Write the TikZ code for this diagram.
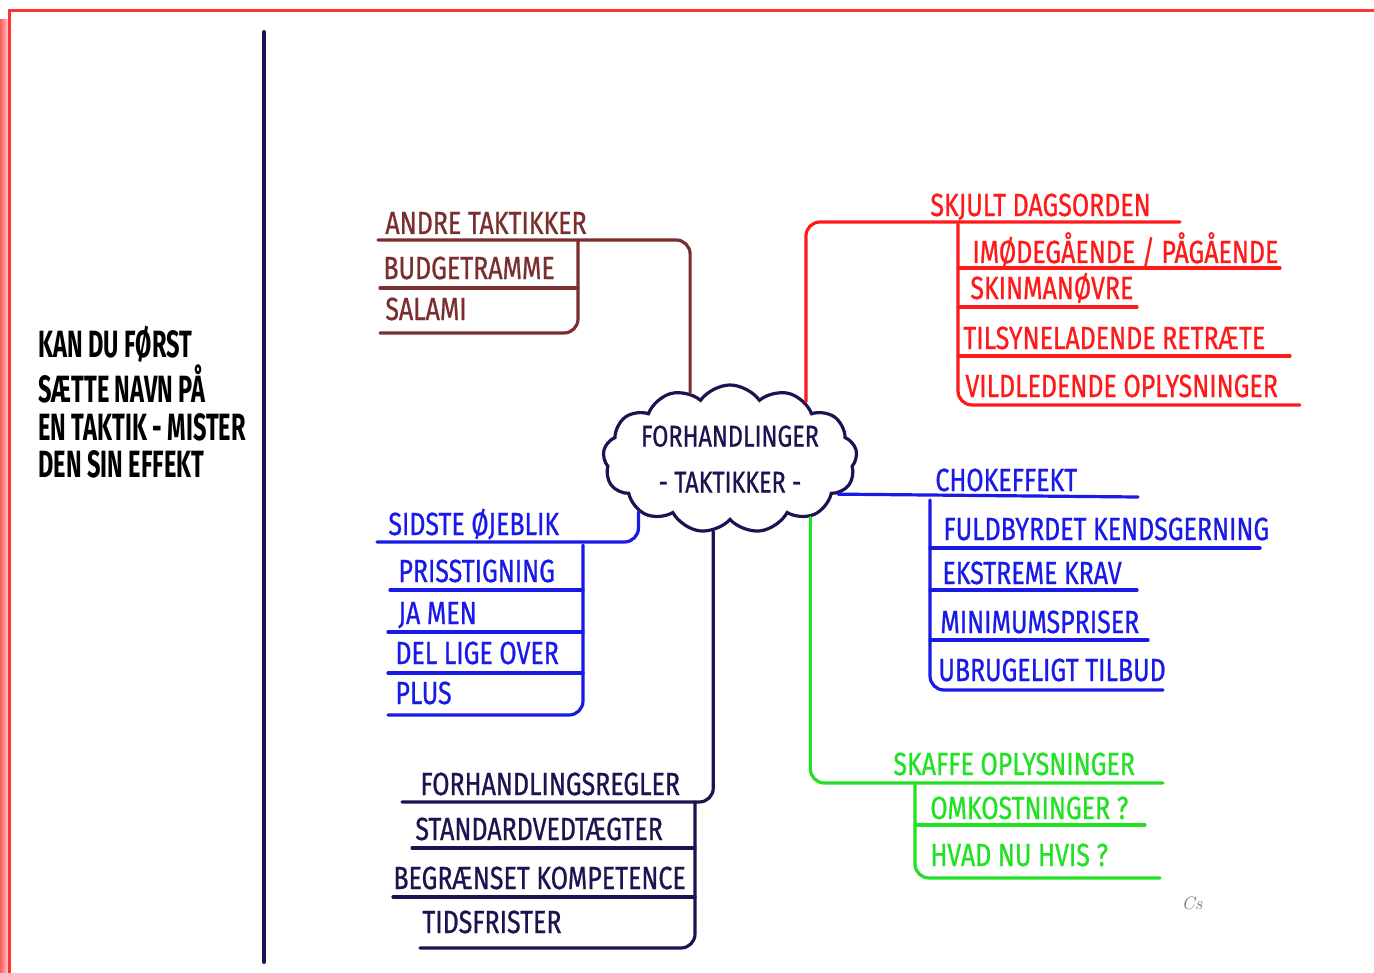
\documentclass[tikz,border=0pt]{standalone}
\usepackage{fontspec}
\newfontfamily\handfont[FakeStretch=0.78,FakeBold=0.8]{Fira Sans}
\newfontfamily\heavyfont[FakeStretch=0.62]{Fira Sans}
\usetikzlibrary{shapes.symbols}

\definecolor{mmbrown}{HTML}{7A2E2E}
\definecolor{mmred}{HTML}{FF1A1A}
\definecolor{mmblue}{HTML}{1A1AE6}
\definecolor{mmgreen}{HTML}{22E022}
\definecolor{mmnavy}{HTML}{1C1450}

\tikzset{
  branch/.style={line width=1.6pt, line cap=round, rounded corners=7pt},
  lbl/.style={font=\handfont\fontsize{16}{16}\selectfont, inner sep=0pt, anchor=base west},
}

\begin{document}
\begin{tikzpicture}[x=0.5pt,y=-0.5pt]
\useasboundingbox (0,0) rectangle (1374,973);
% frame and divider
\shade[left color=red!65, right color=red!20] (0,20) rectangle (8,973);
\draw[red!80, line width=1.5pt] (9,973) -- (9,11) -- (1374,11);
\draw[mmnavy, line width=2pt, line cap=round] (264,32) -- (264,962);

% question on the left
\node[font=\heavyfont\bfseries\fontsize{19}{18.7}\selectfont, align=left, anchor=north west, inner sep=0pt] (question) at (38,326)
  {KAN DU FØRST\\SÆTTE NAVN PÅ\\EN TAKTIK - MISTER\\DEN SIN EFFEKT};

% centre
\node[cloud, draw=mmnavy, line width=1.6pt, cloud puffs=13, cloud puff arc=110, aspect=1.7,
      inner sep=-10pt, minimum width=127pt, minimum height=74pt, align=center, text=mmnavy,
      font=\handfont\fontsize{15}{15}\selectfont] (hub) at (730,459)
  {FORHANDLINGER\\[8pt]- TAKTIKKER -};

% andre taktikker
\node[lbl, text=mmbrown] (andre) at (385,234) {ANDRE TAKTIKKER};
\coordinate (andreL) at (378,240);
\draw[branch, mmbrown] (hub.121) |- (andreL);
\draw[branch, mmbrown] (578,240) |- (380,333);
\draw[branch, mmbrown] (380,288) -- (578,288);
\node[lbl, text=mmbrown] (budget) at (383,279) {BUDGETRAMME};
\node[lbl, text=mmbrown] (salami) at (385,320) {SALAMI};

% skjult dagsorden
\node[lbl, text=mmred] (skjult) at (930,216) {SKJULT DAGSORDEN};
\coordinate (skjultR) at (1180,222);
\draw[branch, mmred] (hub.37) |- (skjultR);
\draw[branch, mmred] (958,224) |- (1300,405);
\draw[branch, mmred] (958,268) -- (1280,268);
\draw[branch, mmred] (958,307) -- (1137,307);
\draw[branch, mmred] (958,356) -- (1290,356);
\node[lbl, text=mmred] (imoede) at (972,263) {IMØDEGÅENDE / PÅGÅENDE};
\node[lbl, text=mmred] (skin) at (970,299) {SKINMANØVRE};
\node[lbl, text=mmred] (retraet) at (963,349) {TILSYNELADENDE RETRÆTE};
\node[lbl, text=mmred] (vild) at (965,397) {VILDLEDENDE OPLYSNINGER};

% chokeffekt
\node[lbl, text=mmblue] (choke) at (935,491) {CHOKEFFEKT};
\coordinate (chokeR) at (1138,497);
\draw[branch, mmblue] (hub.342) -- (chokeR);
\draw[branch, mmblue] (930,500) |- (1163,690);
\draw[branch, mmblue] (930,548) -- (1260,548);
\draw[branch, mmblue] (930,590) -- (1137,590);
\draw[branch, mmblue] (930,640) -- (1148,640);
\node[lbl, text=mmblue] (fuld) at (943,540) {FULDBYRDET KENDSGERNING};
\node[lbl, text=mmblue] (krav) at (942,584) {EKSTREME KRAV};
\node[lbl, text=mmblue] (minimum) at (940,633) {MINIMUMSPRISER};
\node[lbl, text=mmblue] (tilbud) at (938,681) {UBRUGELIGT TILBUD};

% skaffe oplysninger
\node[lbl, text=mmgreen] (skaffe) at (893,775) {SKAFFE OPLYSNINGER};
\coordinate (skaffeR) at (1163,783);
\draw[branch, mmgreen] (hub.324) |- (skaffeR);
\draw[branch, mmgreen] (915,785) |- (1160,878);
\draw[branch, mmgreen] (915,825) -- (1145,825);
\node[lbl, text=mmgreen] (omk) at (930,819) {OMKOSTNINGER ?};
\node[lbl, text=mmgreen] (hvis) at (930,866) {HVAD NU HVIS ?};

% forhandlingsregler
\node[lbl, text=mmnavy] (regler) at (420,795) {FORHANDLINGSREGLER};
\coordinate (reglerL) at (402,802);
\draw[branch, mmnavy] (hub.257) |- (reglerL);
\draw[branch, mmnavy] (695,802) |- (420,948);
\draw[branch, mmnavy] (412,848) -- (695,848);
\draw[branch, mmnavy] (393,897) -- (695,897);
\node[lbl, text=mmnavy] (standard) at (415,840) {STANDARDVEDTÆGTER};
\node[lbl, text=mmnavy] (kompetence) at (393,889) {BEGRÆNSET KOMPETENCE};
\node[lbl, text=mmnavy] (frister) at (422,933) {TIDSFRISTER};

% sidste oejeblik
\node[lbl, text=mmblue] (sidste) at (388,535) {SIDSTE ØJEBLIK};
\coordinate (sidsteL) at (377,542);
\draw[branch, mmblue] (hub.210) |- (sidsteL);
\draw[branch, mmblue] (583,545) |- (388,715);
\draw[branch, mmblue] (390,590) -- (583,590);
\draw[branch, mmblue] (388,632) -- (583,632);
\draw[branch, mmblue] (388,673) -- (583,673);
\node[lbl, text=mmblue] (pris) at (398,582) {PRISSTIGNING};
\node[lbl, text=mmblue] (jamen) at (398,624) {JA MEN};
\node[lbl, text=mmblue] (dellige) at (395,664) {DEL LIGE OVER};
\node[lbl, text=mmblue] (plus) at (395,704) {PLUS};

\node[font=\itshape\small, text=gray] (sign) at (1192,903) {Cs};
\end{tikzpicture}
\end{document}
